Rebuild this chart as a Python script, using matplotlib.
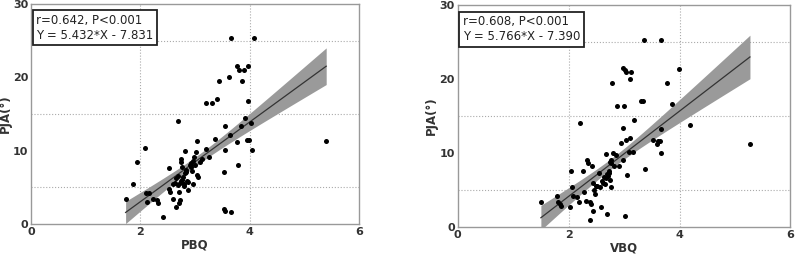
import numpy as np
import matplotlib
matplotlib.use("Agg")
import matplotlib.pyplot as plt

# left panel: PBQ vs PJA
pbq_x = [1.73, 1.87, 1.93, 2.09, 2.10, 2.12, 2.15, 2.23, 2.31, 2.32, 2.42, 2.53, 2.53, 2.55,
         2.59, 2.63, 2.65, 2.69, 2.69, 2.70, 2.71, 2.73, 2.74, 2.75, 2.76, 2.77, 2.79, 2.81,
         2.82, 2.84, 2.85, 2.87, 2.88, 2.92, 2.95, 2.96, 2.97, 2.98, 3.00, 3.01, 3.03, 3.04,
         3.05, 3.09, 3.12, 3.20, 3.20, 3.25, 3.31, 3.37, 3.40, 3.43, 3.53, 3.54, 3.55, 3.53,
         3.55, 3.65, 3.63, 3.64, 3.66, 3.76, 3.77, 3.79, 3.80, 3.84, 3.86, 3.90, 3.91, 3.96,
         3.97, 3.97, 3.98, 4.03, 4.04, 4.08, 5.40, 2.60, 2.66, 2.72, 2.78, 2.83, 2.90, 2.74,
         2.68, 2.80, 2.93]
pja_l = [3.4, 5.4, 8.4, 10.3, 4.2, 3.0, 4.2, 3.4, 3.3, 2.8, 1.0, 7.6, 4.8, 4.4,
         3.4, 5.6, 2.3, 14.1, 6.5, 4.4, 2.9, 3.2, 8.4, 8.9, 7.8, 6.0, 5.2, 6.9,
         10.0, 7.4, 5.8, 4.6, 5.7, 7.8, 7.2, 8.6, 5.4, 9.1, 8.1, 9.8, 11.3, 6.7,
         6.4, 8.4, 8.8, 16.5, 10.2, 9.1, 16.5, 11.6, 17.0, 19.5, 7.1, 10.1, 13.3, 2.0,
         1.7, 1.6, 20.0, 12.1, 25.3, 21.5, 11.2, 8.0, 21.0, 13.3, 19.5, 21.0, 14.5, 11.5,
         21.5, 16.7, 11.5, 13.8, 10.1, 25.3, 11.3, 5.5, 6.2, 5.6, 6.4, 7.1, 8.0, 5.9,
         5.3, 5.5, 8.3]

# right panel: VBQ vs PJA
vbq_x = [1.50, 1.79, 1.81, 1.84, 1.86, 2.02, 2.05, 2.06, 2.08, 2.16, 2.18, 2.21, 2.26, 2.27,
         2.32, 2.34, 2.35, 2.38, 2.38, 2.40, 2.42, 2.44, 2.46, 2.48, 2.52, 2.54, 2.56, 2.58,
         2.60, 2.64, 2.66, 2.68, 2.69, 2.70, 2.72, 2.74, 2.76, 2.77, 2.77, 2.78, 2.80, 2.81,
         2.86, 2.87, 2.90, 2.94, 2.98, 2.99, 2.98, 2.98, 3.01, 3.02, 3.04, 3.04, 3.06, 3.08,
         3.10, 3.11, 3.13, 3.16, 3.18, 3.30, 3.34, 3.36, 3.37, 3.53, 3.59, 3.61, 3.64, 3.66,
         3.66, 3.67, 3.78, 3.86, 3.99, 4.18, 5.27, 2.62, 2.67, 2.71, 2.75, 2.50, 2.44, 2.72]
pja_r = [3.4, 4.2, 3.4, 3.1, 2.8, 2.7, 7.6, 5.4, 4.2, 4.1, 3.4, 14.1, 7.6, 4.7,
         3.5, 9.1, 8.6, 3.4, 1.0, 3.1, 8.3, 2.2, 5.0, 4.5, 5.5, 7.3, 5.4, 2.7,
         6.2, 6.8, 5.8, 9.9, 1.8, 7.2, 7.3, 6.4, 8.6, 5.4, 9.0, 19.5, 10.0, 8.2,
         9.8, 16.4, 8.2, 11.3, 13.4, 16.4, 9.1, 21.5, 21.2, 1.5, 11.8, 20.9, 7.1, 10.1,
         12.1, 20.0, 20.9, 10.2, 14.5, 17.0, 17.0, 25.3, 7.9, 11.8, 11.2, 11.6, 11.6, 25.3,
         13.2, 10.0, 19.5, 16.7, 21.4, 13.8, 11.2, 6.0, 6.6, 6.9, 8.8, 5.6, 5.9, 7.6]

panels = [
    dict(x=pbq_x, y=pja_l, slope=5.432, icpt=-7.831, label="PBQ",
         text="r=0.642, P<0.001\nY = 5.432*X - 7.831"),
    dict(x=vbq_x, y=pja_r, slope=5.766, icpt=-7.390, label="VBQ",
         text="r=0.608, P<0.001\nY = 5.766*X - 7.390"),
]

fig = plt.figure(figsize=(7.96, 2.58), dpi=100)
rects = [[0.039, 0.132, 0.412, 0.853], [0.575, 0.120, 0.418, 0.860]]

for rect, p in zip(rects, panels):
    ax = fig.add_axes(rect)
    x = np.array(p["x"])
    y = np.array(p["y"])
    n = len(x)

    # fitted line + confidence band of the mean
    xs = np.linspace(x.min(), x.max(), 100)
    ys = p["slope"] * xs + p["icpt"]
    resid = y - (p["slope"] * x + p["icpt"])
    s = np.sqrt(np.sum(resid ** 2) / (n - 2))
    se = s * np.sqrt(1.0 / n + (xs - x.mean()) ** 2 / np.sum((x - x.mean()) ** 2))
    ax.fill_between(xs, ys - 1.35 * se, ys + 1.35 * se, color="#9a9a9a", lw=0, zorder=2)
    ax.plot(xs, ys, color="#333333", lw=0.9, zorder=3)
    ax.scatter(x, y, s=13, color="black", zorder=4, linewidths=0)

    ax.set_xlim(0, 6)
    ax.set_ylim(0, 30)
    ax.set_xticks([0, 2, 4, 6])
    ax.set_yticks([0, 10, 20, 30])
    for gx in [2, 4]:
        ax.axvline(gx, color="#aaaaaa", lw=0.8, ls=":", zorder=1)
    for gy in [5, 15, 25]:
        ax.axhline(gy, color="#aaaaaa", lw=0.8, ls=":", zorder=1)
    ax.tick_params(length=0, labelsize=8, pad=2, colors="#333333")
    for lab in ax.get_xticklabels() + ax.get_yticklabels():
        lab.set_fontweight("bold")
    for sp in ax.spines.values():
        sp.set_color("#999999")
        sp.set_linewidth(1.0)
    ax.set_xlabel(p["label"], fontsize=8.5, fontweight="bold", color="#333333", labelpad=1)
    ax.set_ylabel("PJA(°)", fontsize=8.5, fontweight="bold", color="#333333", labelpad=1)
    ax.text(0.016, 0.955, p["text"], transform=ax.transAxes, fontsize=8.5, va="top",
            ha="left", linespacing=1.2, color="#222222", zorder=5,
            bbox=dict(boxstyle="square,pad=0.3", fc="white", ec="#222222", lw=1.3))

fig.savefig("out.png", dpi=100)
